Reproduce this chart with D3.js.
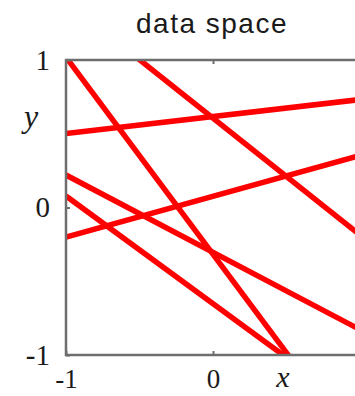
<!DOCTYPE html>
<html>
<head>
<meta charset="utf-8">
<script src="https://cdn.jsdelivr.net/npm/d3@7"></script>
<style>
    body { margin: 0; background: #fff; }
    svg { display: block; }
</style>
</head>
<body>
<div id="chart"></div>
<script>
'use strict';

// lines in data space, y = slope * x + intercept
const slopes = [-1.336, -0.792, 0.115, 0.276, -0.524, -0.730];
const intercepts = [-0.317, 0.606, 0.617, 0.076, -0.304, -0.652];
const tickValues = [-1, 0, 1];
const tickLabels = ["-1", "0", "1"];
const title = "data space";

const width = 355, height = 396;
const margin = { left: 66, top: 60 };
const plotW = 294, plotH = 295;

const svg = d3.select("#chart").append("svg")
    .attr("width", width)
    .attr("height", height);

const x = d3.scaleLinear().domain([-1, 1]).range([margin.left, margin.left + plotW]);
const y = d3.scaleLinear().domain([-1, 1]).range([margin.top + plotH, margin.top]);
const fmt = d => tickLabels[tickValues.indexOf(d)];

// clip lines to the plot box
svg.append("defs").append("clipPath")
    .attr("id", "plot-clip")
    .append("rect")
    .attr("x", x(-1)).attr("y", y(1))
    .attr("width", plotW).attr("height", plotH);

const lines = slopes.map((m, i) => [[-1, m * -1 + intercepts[i]], [1, m + intercepts[i]]]);

svg.append("g")
    .attr("clip-path", "url(#plot-clip)")
    .selectAll("line")
    .data(lines)
    .join("line")
    .attr("x1", d => x(d[0][0]))
    .attr("y1", d => y(d[0][1]))
    .attr("x2", d => x(d[1][0]))
    .attr("y2", d => y(d[1][1]))
    .attr("stroke", "#ff0000")
    .attr("stroke-width", 5.5);

// frame
svg.append("rect")
    .attr("x", x(-1)).attr("y", y(1))
    .attr("width", plotW).attr("height", plotH)
    .attr("fill", "none")
    .attr("stroke", "#6e6e6e")
    .attr("stroke-width", 2.5);

function styleAxis(g, size) {
    g.select(".domain").remove();
    g.selectAll(".tick line").attr("stroke", "#6e6e6e").attr("stroke-width", 2);
    g.selectAll(".tick text")
        .attr("fill", "#1a1a1a")
        .style("font-family", "'Liberation Serif', serif")
        .style("font-size", size + "px");
}

svg.append("g")
    .attr("transform", `translate(0,${y(-1)})`)
    .call(d3.axisBottom(x).tickValues(tickValues).tickFormat(fmt).tickSizeInner(-4).tickSizeOuter(0).tickPadding(14))
    .call(styleAxis, 27);

svg.append("g")
    .attr("transform", `translate(0,${y(1)})`)
    .call(d3.axisTop(x).tickValues([0]).tickSizeInner(-4).tickSizeOuter(0).tickFormat(""))
    .call(styleAxis, 27);

svg.append("g")
    .attr("transform", `translate(${x(-1)},0)`)
    .call(d3.axisLeft(y).tickValues(tickValues).tickFormat(fmt).tickSizeInner(-4).tickSizeOuter(0).tickPadding(16))
    .call(styleAxis, 29);

// axis names
svg.append("text")
    .attr("x", 283).attr("y", 387)
    .attr("text-anchor", "middle")
    .style("font-family", "'Liberation Serif', serif")
    .style("font-style", "italic")
    .style("font-size", "30px")
    .attr("fill", "#1a1a1a")
    .text("x");

svg.append("text")
    .attr("x", 31).attr("y", 127)
    .attr("text-anchor", "middle")
    .style("font-family", "'Liberation Serif', serif")
    .style("font-style", "italic")
    .style("font-size", "32px")
    .attr("fill", "#1a1a1a")
    .text("y");

svg.append("text")
    .attr("x", 212).attr("y", 33)
    .attr("text-anchor", "middle")
    .style("font-family", "'Liberation Sans', Arial, sans-serif")
    .style("font-size", "28px")
    .style("letter-spacing", "1.5px")
    .attr("fill", "#1a1a1a")
    .text(title);
</script>
</body>
</html>
